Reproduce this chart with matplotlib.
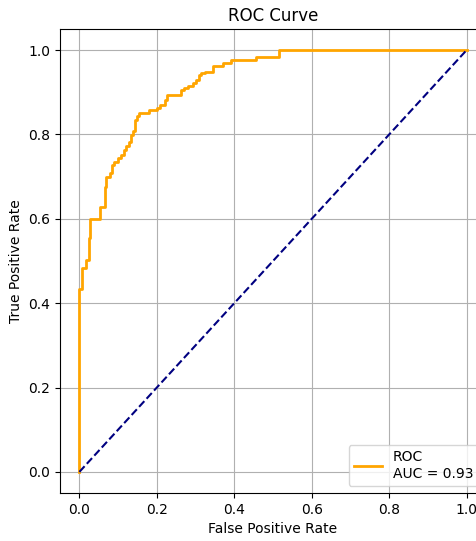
import matplotlib
matplotlib.use("Agg")
import matplotlib.pyplot as plt

# ROC corner points
fpr = [0.0, 0.0, 0.008, 0.008, 0.016, 0.016, 0.024, 0.024, 0.028, 0.028,
       0.054, 0.054, 0.065, 0.065, 0.069, 0.069, 0.078, 0.078, 0.084, 0.084,
       0.090, 0.090, 0.100, 0.100, 0.108, 0.108, 0.115, 0.115, 0.121, 0.121,
       0.127, 0.127, 0.134, 0.134, 0.138, 0.138, 0.144, 0.144, 0.149, 0.149,
       0.155, 0.155, 0.181, 0.181, 0.200, 0.200, 0.208, 0.208, 0.221, 0.221,
       0.227, 0.227, 0.263, 0.263, 0.271, 0.271, 0.280, 0.280, 0.293, 0.293,
       0.302, 0.302, 0.309, 0.309, 0.314, 0.314, 0.324, 0.324, 0.345, 0.345,
       0.372, 0.372, 0.392, 0.392, 0.455, 0.455, 0.515, 0.515, 1.0]
tpr = [0.0, 0.434, 0.434, 0.483, 0.483, 0.502, 0.502, 0.554, 0.554, 0.600,
       0.600, 0.629, 0.629, 0.676, 0.676, 0.700, 0.700, 0.708, 0.708, 0.727,
       0.727, 0.735, 0.735, 0.743, 0.743, 0.751, 0.751, 0.763, 0.763, 0.773,
       0.773, 0.783, 0.783, 0.799, 0.799, 0.809, 0.809, 0.834, 0.834, 0.844,
       0.844, 0.851, 0.851, 0.857, 0.857, 0.862, 0.862, 0.870, 0.870, 0.882,
       0.882, 0.893, 0.893, 0.905, 0.905, 0.909, 0.909, 0.915, 0.915, 0.921,
       0.921, 0.929, 0.929, 0.941, 0.941, 0.945, 0.945, 0.949, 0.949, 0.962,
       0.962, 0.970, 0.970, 0.976, 0.976, 0.984, 0.984, 1.0, 1.0]
auc_value = 0.93

fig = plt.figure(figsize=(4.77, 5.41), dpi=100)
# axes extends a bit past the right edge like the cropped reference
ax = fig.add_axes([60 / 477, 48 / 541, 426 / 477, 464 / 541])

ax.plot(fpr, tpr, color="orange", lw=2, label="ROC\nAUC = %.2f" % auc_value)
ax.plot([0, 1], [0, 1], color="navy", lw=1.5, linestyle="--")
ax.set_xlim(-0.05, 1.05)
ax.set_ylim(-0.05, 1.05)
ax.set_xlabel("False Positive Rate")
ax.set_ylabel("True Positive Rate")
ax.set_title("ROC Curve")
ax.grid(True)
ax.legend(loc="lower right")

fig.savefig("out.png", dpi=100)
